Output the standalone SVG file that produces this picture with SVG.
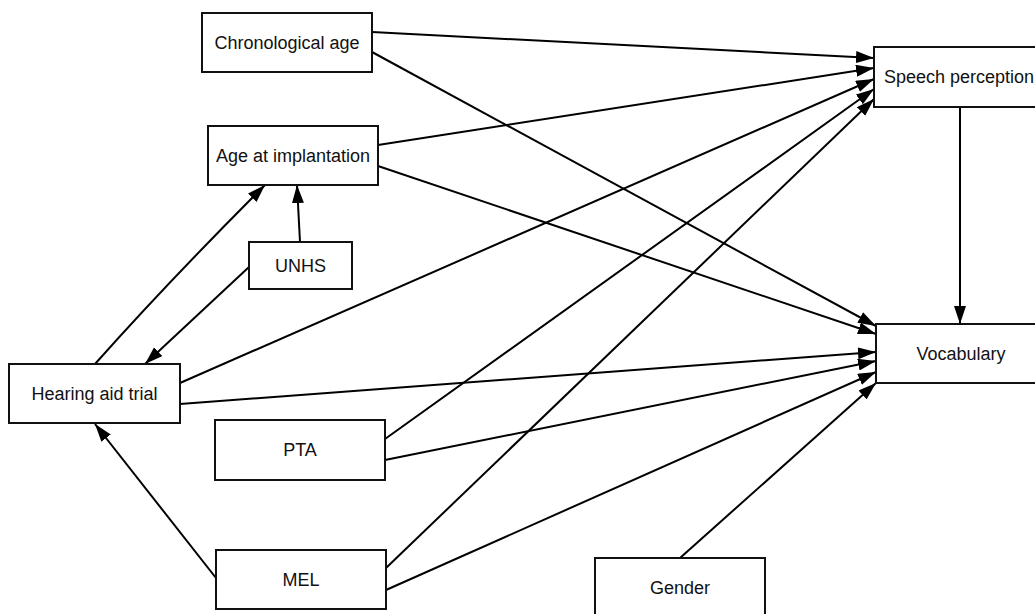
<svg xmlns="http://www.w3.org/2000/svg" width="1035" height="614" viewBox="0 0 1035 614">
<style>
.box{fill:#fff;stroke:#111;stroke-width:2}
.lbl{font-family:"Liberation Sans",Arial,sans-serif;font-size:18px;fill:#111;text-anchor:middle}
.edge{fill:none;stroke:#000;stroke-width:2;marker-end:url(#ah)}
</style>
<defs>
<marker id="ah" markerUnits="userSpaceOnUse" markerWidth="19" markerHeight="13" refX="18" refY="6" orient="auto">
<path d="M0,0 L18,6 L0,12 z" fill="#000"/>
</marker>
</defs>
<rect width="1035" height="614" fill="#fff"/>
<g id="connectors">
<path class="edge" d="M372,32 L874,58"/>
<path class="edge" d="M378,145 L874,68"/>
<path class="edge" d="M180,383 L874,79"/>
<path class="edge" d="M385,439 L874,89"/>
<path class="edge" d="M386,568 L874,99"/>
<path class="edge" d="M372,52 L876,326"/>
<path class="edge" d="M378,166 L876,334"/>
<path class="edge" d="M180,404 L876,352"/>
<path class="edge" d="M385,460 L876,361"/>
<path class="edge" d="M386,590 L876,372"/>
<path class="edge" d="M680,558 L876,383"/>
<path class="edge" d="M960,107 L960,324"/>
<path class="edge" d="M95,364 Q168,282 265,185"/>
<path class="edge" d="M300,242 L297,185"/>
<path class="edge" d="M249,267 L145,364"/>
<path class="edge" d="M216,578 L95,424"/>
</g>
<g id="node-chronological-age">
<rect class="box" x="202" y="13" width="170" height="59"/>
<text class="lbl" x="287" y="49">Chronological age</text>
</g>
<g id="node-age-at-implantation">
<rect class="box" x="208" y="126" width="170" height="59"/>
<text class="lbl" x="293" y="162">Age at implantation</text>
</g>
<g id="node-unhs">
<rect class="box" x="249" y="242" width="103" height="47"/>
<text class="lbl" x="300.5" y="272">UNHS</text>
</g>
<g id="node-hearing-aid-trial">
<rect class="box" x="9" y="364" width="171" height="59"/>
<text class="lbl" x="94.5" y="400">Hearing aid trial</text>
</g>
<g id="node-pta">
<rect class="box" x="215" y="420" width="170" height="60"/>
<text class="lbl" x="300" y="456">PTA</text>
</g>
<g id="node-mel">
<rect class="box" x="216" y="550" width="170" height="59"/>
<text class="lbl" x="301" y="586">MEL</text>
</g>
<g id="node-gender">
<rect class="box" x="595" y="558" width="170" height="60"/>
<text class="lbl" x="680" y="594">Gender</text>
</g>
<g id="node-speech-perception">
<rect class="box" x="874" y="47" width="170" height="60"/>
<text class="lbl" x="959" y="83">Speech perception</text>
</g>
<g id="node-vocabulary">
<rect class="box" x="876" y="324" width="170" height="59"/>
<text class="lbl" x="961" y="360">Vocabulary</text>
</g>
</svg>
